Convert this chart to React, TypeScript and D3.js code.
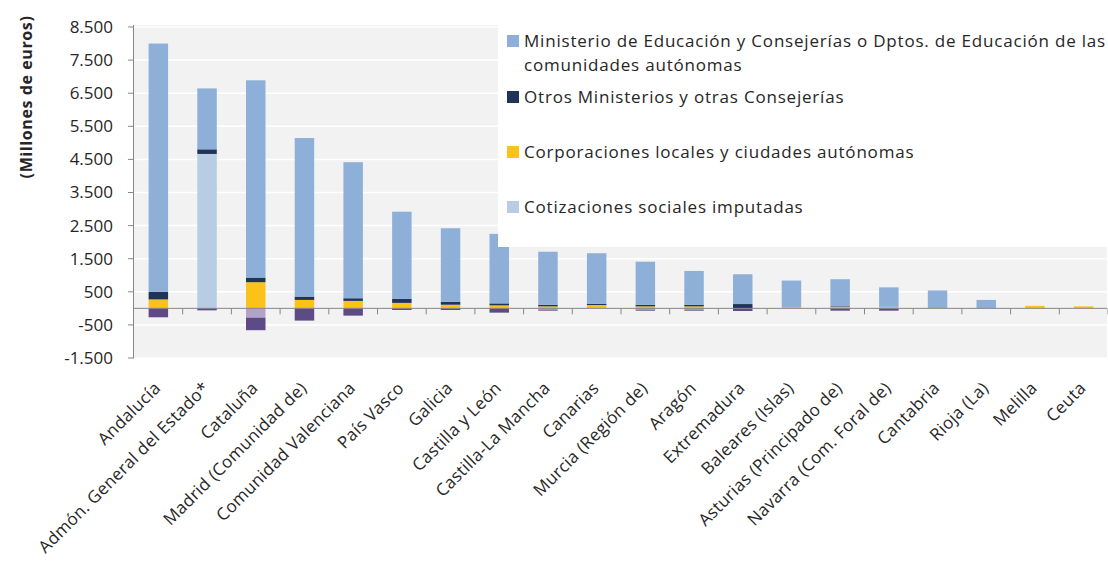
import React from "react";
import * as d3 from "d3";

const categories = [
  "Andalucía",
  "Admón. General del Estado*",
  "Cataluña",
  "Madrid (Comunidad de)",
  "Comunidad Valenciana",
  "País Vasco",
  "Galicia",
  "Castilla y León",
  "Castilla-La Mancha",
  "Canarias",
  "Murcia (Región de)",
  "Aragón",
  "Extremadura",
  "Baleares (Islas)",
  "Asturias (Principado de)",
  "Navarra (Com. Foral de)",
  "Cantabria",
  "Rioja (La)",
  "Melilla",
  "Ceuta",
];

// millones de euros
const ministerio = [7500, 1840, 5960, 4790, 4110, 2635, 2220, 2100, 1600, 1525, 1300, 1020, 900, 800, 820, 590, 530, 254, 0, 0];
const otrosMinisterios = [230, 140, 140, 100, 80, 120, 90, 60, 50, 40, 50, 50, 130, 0, 20, 0, 0, 0, 0, 0];
const corporaciones = [270, 0, 790, 255, 225, 165, 110, 90, 60, 100, 60, 60, 0, 40, 40, 45, 10, 0, 75, 60];
const cotizaciones = [0, 4665, 0, 0, 0, 0, 0, 0, 0, 0, 0, 0, 0, 0, 0, 0, 0, 0, 0, 0];
const negativoClaro = [0, 0, -280, 0, 0, 0, 0, 0, -40, 0, -40, -40, 0, 0, 0, 0, 0, 0, 0, 0];
const negativoOscuro = [-270, -60, -380, -370, -220, -50, -50, -130, -30, 0, -30, -30, -80, 0, -70, -70, 0, 0, 0, 0];

const yTicks = [-1500, -500, 500, 1500, 2500, 3500, 4500, 5500, 6500, 7500, 8500];

const series = [
  { key: "cotizaciones", values: cotizaciones, color: "#b8cce4" },
  { key: "corporaciones", values: corporaciones, color: "#fbc217" },
  { key: "otros", values: otrosMinisterios, color: "#1f3456" },
  { key: "ministerio", values: ministerio, color: "#8eafd8" },
  { key: "negClaro", values: negativoClaro, color: "#b4a3c8" },
  { key: "negOscuro", values: negativoOscuro, color: "#5e4a86" },
];

const legendItems = [
  { lines: ["Ministerio de Educación y Consejerías o Dptos. de Educación de las", "comunidades autónomas"], color: "#8eafd8", y: 41 },
  { lines: ["Otros Ministerios y otras Consejerías"], color: "#1f3456", y: 97 },
  { lines: ["Corporaciones locales y ciudades autónomas"], color: "#fbc217", y: 152 },
  { lines: ["Cotizaciones sociales imputadas"], color: "#b8cce4", y: 207 },
];

const font = "'Open Sans', sans-serif";

export default function App() {
  const width = 1108;
  const height = 561;
  const left = 134;
  const right = 1108;
  const top = 27;
  const bottom = 358;

  const x = d3.scaleBand().domain(categories).range([left, right]).paddingInner(0.6).paddingOuter(0.3);
  const step = x.step();
  const y = d3.scaleLinear().domain([-1500, 8500]).range([bottom, top]);

  const rows = categories.map((c, i) => {
    const r: any = { cat: c };
    series.forEach((s) => (r[s.key] = s.values[i]));
    return r;
  });
  const stacked = d3
    .stack()
    .keys(series.map((s) => s.key))
    .offset(d3.stackOffsetDiverging)(rows);

  const fmt = (v: number) => d3.format(",")(v).replace(/,/g, ".").replace("−", "-");

  return (
    <svg
      width={width}
      height={height}
      style={{ position: "absolute", left: 0, top: 0, background: "#fff" }}
      fontFamily={font}
    >
      {/* plot area */}
      <rect x={left} y={top - 2} width={1107 - left} height={bottom - top + 2} fill="#f2f2f2" />
      {yTicks.map((t) => (
        <line key={t} x1={left} x2={1107} y1={y(t)} y2={y(t)} stroke="#fff" strokeWidth={1.5} />
      ))}

      {/* bars */}
      {stacked.map((layer, li) => (
        <g key={layer.key} fill={series[li].color}>
          {layer.map((d, i) => {
            const h = Math.abs(y(d[0]) - y(d[1]));
            if (h < 0.01) return null;
            return (
              <rect
                key={i}
                x={x(categories[i])}
                y={Math.min(y(d[0]), y(d[1]))}
                width={x.bandwidth()}
                height={h}
              />
            );
          })}
        </g>
      ))}

      {/* y axis */}
      <line x1={left - 0.5} x2={left - 0.5} y1={top - 2} y2={bottom} stroke="#868686" />
      {yTicks.map((t) => (
        <g key={t}>
          <line x1={left - 6} x2={left} y1={y(t)} y2={y(t)} stroke="#868686" />
          <text x={113} y={y(t)} dy="0.35em" textAnchor="end" fontSize={17} fill="#262626">
            {fmt(t)}
          </text>
        </g>
      ))}
      <text
        transform={`translate(26,97) rotate(-90)`}
        textAnchor="middle"
        dy="0.35em"
        fontSize={16}
        fontWeight="bold"
        fill="#262626"
        letterSpacing={0.6}
      >
        (Millones de euros)
      </text>

      {/* x axis at zero */}
      <line x1={left} x2={1107} y1={y(0)} y2={y(0)} stroke="#868686" />
      {categories.map((c, i) => (
        <line
          key={c}
          x1={left + (i + 1) * step}
          x2={left + (i + 1) * step}
          y1={y(0)}
          y2={y(0) + 6}
          stroke="#868686"
        />
      ))}
      {categories.map((c) => {
        const cx = (x(c) as number) + x.bandwidth() / 2 - 1;
        return (
          <text
            key={c}
            transform={`translate(${cx},385) rotate(-45)`}
            textAnchor="end"
            dy="0.35em"
            fontSize={17}
            letterSpacing={0.3}
            fill="#262626"
          >
            {c}
          </text>
        );
      })}

      {/* legend */}
      <rect x={498} y={25} width={610} height={222} fill="#fff" />
      {legendItems.map((it) => (
        <g key={it.lines[0]}>
          <rect x={507} y={it.y - 6} width={12} height={12} fill={it.color} />
          {it.lines.map((ln, k) => (
            <text key={k} x={524} y={it.y + k * 24} dy="0.35em" fontSize={17} letterSpacing={0.8} fill="#262626">
              {ln}
            </text>
          ))}
        </g>
      ))}
    </svg>
  );
}
